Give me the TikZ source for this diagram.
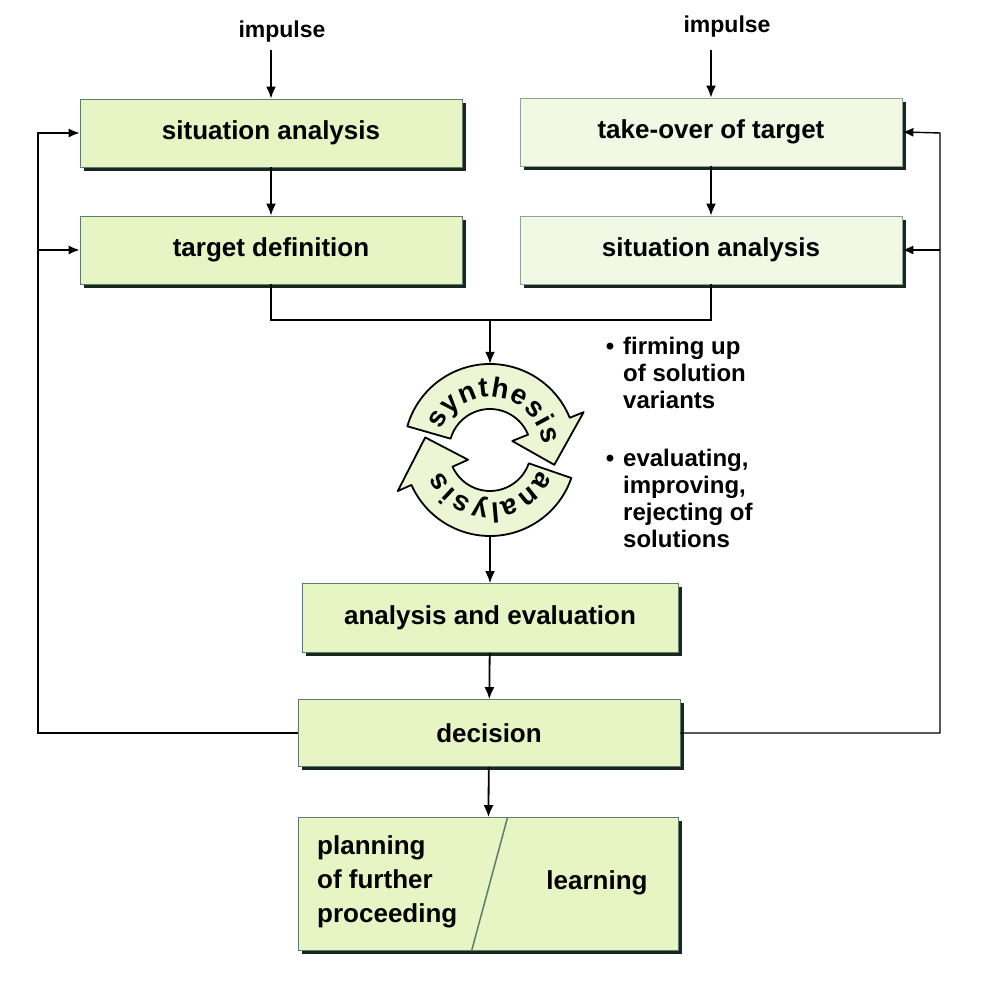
\documentclass[tikz,border=0pt]{standalone}
\usepackage{fontspec}
\setmainfont{Liberation Sans}
\usetikzlibrary{arrows.meta,shadows,decorations.text,calc}
\definecolor{boxL}{RGB}{230,245,195}
\definecolor{boxR}{RGB}{241,249,229}
\definecolor{edgeC}{RGB}{95,125,110}
\definecolor{shadowC}{RGB}{25,40,30}
\definecolor{cycC}{RGB}{236,246,212}
\begin{document}
\begin{tikzpicture}[x=1pt,y=1pt,
 box/.style={draw=edgeC, line width=0.8pt, fill=boxL, minimum width=382, minimum height=68, inner sep=0pt,
   font=\fontsize{26}{30}\selectfont\bfseries,
   drop shadow={shadow xshift=4pt, shadow yshift=-4pt, fill=shadowC, opacity=1}},
 rbox/.style={box, fill=boxR, draw=edgeC!70},
 arr/.style={line width=1.8pt, -{Latex[length=12pt,width=10pt]}},
 conn/.style={line width=1.8pt},
 fb/.style={line width=1.4pt, -{Latex[length=11pt,width=9pt]}},
 lbl/.style={font=\fontsize{23}{27}\selectfont\bfseries, inner sep=0pt},
 bul/.style={font=\fontsize{24}{27}\selectfont\bfseries, align=left, inner sep=0pt, anchor=north west},
 ftxt/.style={font=\fontsize{26}{34}\selectfont\bfseries, inner sep=0pt},
 cycarrow/.style={draw=black, line width=1.8pt, fill=cycC, line join=round}]
\path[use as bounding box] (0,0) rectangle (980,1000);

% impulse labels
\node[lbl] (imp1) at (282,968) {impulse};
\node[lbl] (imp2) at (727,973) {impulse};
\coordinate (i1) at (271,950);
\coordinate (i2) at (711,950);

% boxes
\node[box]  (sa1) at (271,867) {situation analysis};
\node[box]  (td1) at (271,750) {target definition};
\node[rbox] (to2) at (711,868) {take-over of target};
\node[rbox] (sa2) at (711,750) {situation analysis};
\node[box, minimum width=376, minimum height=69] (ae) at (490,382) {analysis and evaluation};
\node[box, minimum height=67] (dec) at (489,267) {decision};
\node[box, minimum width=380, minimum height=133] (fin) at (488,116) {};

% final box content
\draw[edgeC, line width=1.5pt] ($(fin.north west)+(210,0)$) -- ($(fin.south west)+(174,0)$);
\node[ftxt, align=left, anchor=north west] (plan) at (317,165) {planning\\of further\\proceeding};
\node[ftxt, anchor=base] (learn) at (597,110) {learning};

% cycle
\node[circle, minimum size=172, inner sep=0pt, draw=none] (cyc) at (490,550) {};
\begin{scope}[shift={(490,550)}]
  \path[cycarrow] (164:86) arc[start angle=164, end angle=22, radius=86]
     -- (22:101) -- (-13:66) -- (22:24) -- (22:41)
     arc[start angle=22, end angle=164, radius=41] -- cycle;
  \path[cycarrow] (341:86) arc[start angle=341, end angle=204, radius=86]
     -- (204:101) -- (169:66) -- (204:24) -- (204:41)
     arc[start angle=204, end angle=341, radius=41] -- cycle;
  \path[decorate, decoration={text along path, text align=fit to path,
     text format delimiters={|}{|},
     text={|\fontsize{28}{28}\selectfont\bfseries|synthesis}}]
     (158:53) arc[start angle=158, end angle=6, radius=53];
  \path[decorate, decoration={text along path, text align=fit to path,
     text format delimiters={|}{|},
     text={|\fontsize{28}{28}\selectfont\bfseries|analysis}}]
     (337:53) arc[start angle=337, end angle=204, radius=53];
\end{scope}

% bullet texts
\node[bul] (b1) at (623,663) {\llap{\textbullet\hspace{9pt}}firming up\\of solution\\variants};
\node[bul] (b2) at (623,551) {\llap{\textbullet\hspace{9pt}}evaluating,\\improving,\\rejecting of\\solutions};

% connectors
\draw[arr] (i1) -- (sa1.north);
\draw[arr] (i2) -- (to2.north);
\draw[arr] (sa1) -- (td1);
\draw[arr] (to2) -- (sa2);
\coordinate (m) at (490,680);
\draw[conn] (td1.south) |- (m) -| (sa2.south);
\draw[arr] (m) -- (cyc.north);
\draw[arr] (cyc.south) -- (ae.north);
\draw[arr] (ae) -- (dec);
\draw[arr] (dec) -- (fin);

% feedback loops
\coordinate (lb) at (38,867);
\coordinate (rb) at (940,867);
\draw[fb] (dec.west) -| (lb) -- (sa1.west);
\draw[fb] (lb |- td1.west) -- (td1.west);
\draw[fb] (dec.east) -| (rb) -- (to2.east);
\draw[fb] (rb |- sa2.east) -- (sa2.east);
\end{tikzpicture}
\end{document}
